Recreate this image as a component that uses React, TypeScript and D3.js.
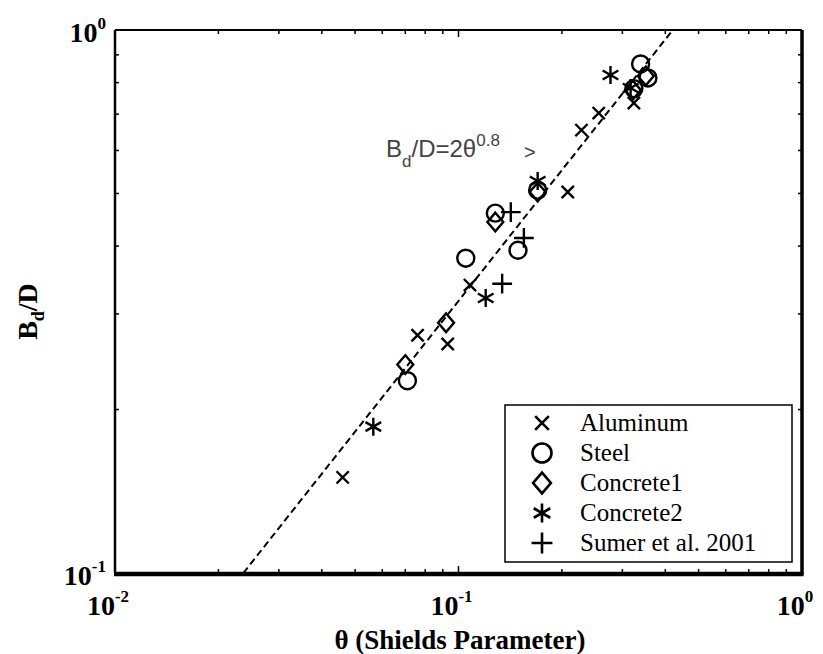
import * as d3 from 'd3';

// Shields parameter (theta) and Bd/D, per series
const aluminumTheta = [0.046, 0.076, 0.093, 0.108, 0.208, 0.228, 0.256, 0.324];
const aluminumB = [0.150, 0.274, 0.264, 0.339, 0.503, 0.654, 0.703, 0.734];
const steelTheta = [0.071, 0.105, 0.128, 0.149, 0.170, 0.324, 0.339, 0.356];
const steelB = [0.226, 0.380, 0.460, 0.393, 0.507, 0.780, 0.866, 0.816];
const concrete1Theta = [0.070, 0.092, 0.128, 0.170, 0.322, 0.351];
const concrete1B = [0.242, 0.289, 0.443, 0.503, 0.775, 0.823];
const concrete2Theta = [0.0565, 0.120, 0.170, 0.277, 0.317];
const concrete2B = [0.186, 0.321, 0.527, 0.826, 0.782];
const sumerTheta = [0.134, 0.142, 0.155];
const sumerB = [0.341, 0.462, 0.414];

const legendLabels = ['Aluminum', 'Steel', 'Concrete1', 'Concrete2', 'Sumer et al. 2001'];
const xTickExps = [-2, -1, 0];
const yTickExps = [-1, 0];

// fit: Bd/D = 2 theta^0.8
const fitCoef = 2;
const fitExp = 0.8;

const serif = "'Liberation Serif', 'DejaVu Serif', serif";
const sans = "'Liberation Sans', Arial, sans-serif";

type Shape = 'x' | 'o' | 'd' | 'star' | 'plus';

const markerPath = (shape: Shape, cx: number, cy: number, s: number) => {
    const p = d3.path();
    if (shape === 'x') {
        const h = s * 0.72;
        p.moveTo(cx - h, cy - h); p.lineTo(cx + h, cy + h);
        p.moveTo(cx - h, cy + h); p.lineTo(cx + h, cy - h);
    } else if (shape === 'o') {
        p.moveTo(cx + s, cy);
        p.arc(cx, cy, s, 0, Math.PI * 2);
    } else if (shape === 'd') {
        const h = s * 1.1;
        p.moveTo(cx, cy - h); p.lineTo(cx + h * 0.85, cy);
        p.lineTo(cx, cy + h); p.lineTo(cx - h * 0.85, cy); p.closePath();
    } else if (shape === 'star') {
        const h = s;
        p.moveTo(cx, cy - h); p.lineTo(cx, cy + h);
        p.moveTo(cx - h * 0.87, cy - h * 0.5); p.lineTo(cx + h * 0.87, cy + h * 0.5);
        p.moveTo(cx - h * 0.87, cy + h * 0.5); p.lineTo(cx + h * 0.87, cy - h * 0.5);
    } else {
        const h = s * 1.1;
        p.moveTo(cx - h, cy); p.lineTo(cx + h, cy);
        p.moveTo(cx, cy - h); p.lineTo(cx, cy + h);
    }
    return p.toString();
};

export default function App() {
    const width = 823;
    const height = 654;
    const margin = { top: 30, right: 21, bottom: 81, left: 115 };

    const x = d3.scaleLog().domain([0.01, 1]).range([margin.left, width - margin.right]);
    const y = d3.scaleLog().domain([0.1, 1]).range([height - margin.bottom, margin.top]);
    const [x0, x1] = x.range();
    const [y0, y1] = y.range();

    const series: { shape: Shape; t: number[]; b: number[]; size: number }[] = [
        { shape: 'x', t: aluminumTheta, b: aluminumB, size: 8.5 },
        { shape: 'o', t: steelTheta, b: steelB, size: 8.5 },
        { shape: 'd', t: concrete1Theta, b: concrete1B, size: 8.5 },
        { shape: 'star', t: concrete2Theta, b: concrete2B, size: 9 },
        { shape: 'plus', t: sumerTheta, b: sumerB, size: 9 },
    ];

    // fit line from B=0.1 to B=1
    const tAt = (b: number) => Math.pow(b / fitCoef, 1 / fitExp);
    const fitPts: [number, number][] = [0.1, 1].map(b => [x(tAt(b)), y(b)]);
    const fitLine = d3.line()(fitPts) || '';

    const isMajor = (v: number) => Math.abs(Math.log10(v) - Math.round(Math.log10(v))) < 1e-6;
    const xTicks = x.ticks();
    const yTicks = y.ticks();

    const legend = { x: 505, y: 405, w: 287, h: 157, row: 30 };

    return (
        <svg width={width} height={height} style={{ position: 'absolute', left: 0, top: 0, background: '#fff' }}>
            <defs>
                <clipPath id="plot">
                    <rect x={x0} y={y1} width={x1 - x0} height={y0 - y1} />
                </clipPath>
            </defs>

            {/* ticks on all four sides */}
            {xTicks.map((t, i) => {
                const len = isMajor(t) ? 7 : 4;
                return (
                    <g key={'xt' + i} stroke="#000" strokeWidth={1.5}>
                        <line x1={x(t)} x2={x(t)} y1={y0} y2={y0 - len} />
                        <line x1={x(t)} x2={x(t)} y1={y1} y2={y1 + len} />
                    </g>
                );
            })}
            {yTicks.map((t, i) => {
                const len = isMajor(t) ? 7 : 4;
                return (
                    <g key={'yt' + i} stroke="#000" strokeWidth={1.5}>
                        <line x1={x0} x2={x0 + len} y1={y(t)} y2={y(t)} />
                        <line x1={x1} x2={x1 - len} y1={y(t)} y2={y(t)} />
                    </g>
                );
            })}

            {/* frame */}
            <line x1={x0} x2={x1} y1={y1} y2={y1} stroke="#000" strokeWidth={2} />
            <line x1={x0} x2={x0} y1={y1} y2={y0} stroke="#000" strokeWidth={2.5} />
            <line x1={x1} x2={x1} y1={y1} y2={y0 + 2} stroke="#000" strokeWidth={3.5} />
            <line x1={x0 - 1} x2={x1 + 1.5} y1={y0 + 1} y2={y0 + 1} stroke="#000" strokeWidth={4.5} />

            {/* fit */}
            <path d={fitLine} fill="none" stroke="#000" strokeWidth={2} strokeDasharray="7,4" clipPath="url(#plot)" />

            {/* markers */}
            {series.map((s, si) => (
                <g key={'s' + si} fill="none" stroke="#000" strokeWidth={2.4}>
                    {s.t.map((t, i) => (
                        <path key={i} d={markerPath(s.shape, x(t), y(s.b[i]), s.size)} />
                    ))}
                </g>
            ))}

            {/* annotation */}
            <text x={386} y={157} style={{ fontFamily: sans, fontSize: 24 }} fill="#444">
                B<tspan fontSize={17} dy={10}>d</tspan>
                <tspan dy={-10}>/D=2θ</tspan>
                <tspan fontSize={17} dy={-11}>0.8</tspan>
            </text>
            <text x={524} y={159} style={{ fontFamily: sans, fontSize: 20 }} fill="#444">&gt;</text>

            {/* legend */}
            <rect x={legend.x} y={legend.y} width={legend.w} height={legend.h} fill="#fff" stroke="#000" strokeWidth={1.5} />
            {legendLabels.map((lab, i) => {
                const cy = legend.y + 18 + i * legend.row;
                return (
                    <g key={'lg' + i}>
                        <path d={markerPath(series[i].shape, 542, cy, 9.5)} fill="none" stroke="#000" strokeWidth={2.6} />
                        <text x={580} y={cy + 8} style={{ fontFamily: serif, fontSize: 25, fontWeight: 400 }} fill="#000">{lab}</text>
                    </g>
                );
            })}

            {/* tick labels */}
            {xTickExps.map(e => (
                <text key={'xl' + e} x={x(Math.pow(10, e)) - 7} y={615} textAnchor="middle"
                    style={{ fontFamily: serif, fontWeight: 700, fontSize: 28 }} fill="#000">
                    10<tspan style={{ fontSize: 17 }} dy={-13}>{e === 0 ? '0' : String(e)}</tspan>
                </text>
            ))}
            {yTickExps.map(e => (
                <text key={'yl' + e} x={106} y={y(Math.pow(10, e)) + 12} textAnchor="end"
                    style={{ fontFamily: serif, fontWeight: 700, fontSize: 28 }} fill="#000">
                    10<tspan style={{ fontSize: 17 }} dy={-13}>{e === 0 ? '0' : String(e)}</tspan>
                </text>
            ))}

            {/* axis titles */}
            <text x={460} y={649} textAnchor="middle" style={{ fontFamily: serif, fontWeight: 700, fontSize: 27 }} fill="#000">
                θ (Shields Parameter)
            </text>
            <text transform={`translate(37, ${(y0 + y1) / 2 + 10}) rotate(-90)`} textAnchor="middle"
                style={{ fontFamily: serif, fontWeight: 700, fontSize: 28 }} fill="#000">
                B<tspan style={{ fontSize: 18 }} dy={7}>d</tspan><tspan dy={-7}>/D</tspan>
            </text>
        </svg>
    );
}
